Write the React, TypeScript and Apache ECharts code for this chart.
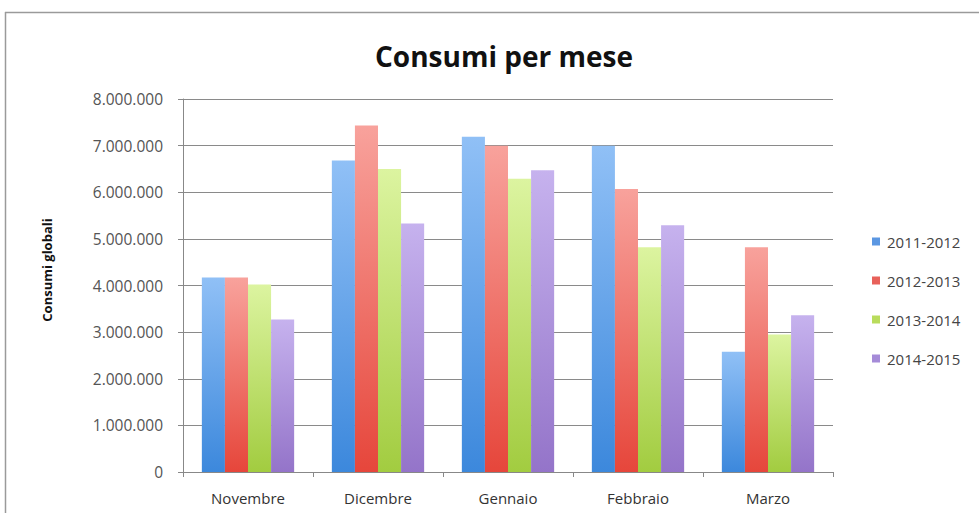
import React, { useEffect, useRef } from "react";
import * as echarts from "echarts";

const categories = ["Novembre", "Dicembre", "Gennaio", "Febbraio", "Marzo"];
const seriesNames = ["2011-2012", "2012-2013", "2013-2014", "2014-2015"];
const s2011 = [4170000, 6680000, 7190000, 7000000, 2580000];
const s2012 = [4170000, 7430000, 7000000, 6070000, 4820000];
const s2013 = [4020000, 6500000, 6290000, 4820000, 2950000];
const s2014 = [3270000, 5330000, 6470000, 5290000, 3360000];
const yTicks = [0, 1000000, 2000000, 3000000, 4000000, 5000000, 6000000, 7000000, 8000000];
const yAxisTitle = "Consumi globali";

const palettes = [
  { top: "#90c0f6", bottom: "#3c88dc", solid: "#5b97e2" },
  { top: "#f8a29c", bottom: "#e6463b", solid: "#e8615a" },
  { top: "#dcf4a0", bottom: "#a2cc40", solid: "#b9dc5c" },
  { top: "#c6b2ee", bottom: "#9474c9", solid: "#a58bd8" },
];

const fmt = (v: number) => String(Math.round(v)).replace(/\B(?=(\d{3})+(?!\d))/g, ".");

export default function App() {
  const ref = useRef<HTMLDivElement>(null);
  useEffect(() => {
    if (!ref.current) return;
    const chart = echarts.init(ref.current, undefined, { renderer: "svg" });
    const data = [s2011, s2012, s2013, s2014];
    const font = "'Open Sans', 'Noto Sans', sans-serif";
    chart.setOption({
      animation: false,
      backgroundColor: "#ffffff",
      textStyle: { fontFamily: font },
      title: {
        text: "Consumi per mese",
        left: 499,
        textAlign: "center",
        top: 37,
        textStyle: { fontSize: 28, fontWeight: "bold", color: "#111", fontFamily: font },
      },
      grid: { left: 183, right: 146, top: 99, bottom: 41 },
      legend: {
        orient: "vertical",
        left: 867,
        top: 229,
        itemWidth: 8,
        itemHeight: 8,
        itemGap: 24,
        icon: "rect",
        textStyle: { fontSize: 15, color: "#444", fontFamily: font, padding: [0, 0, 0, 2] },
        data: seriesNames.map((n, i) => ({ name: n, itemStyle: { color: palettes[i].solid } })),
      },
      xAxis: {
        type: "category",
        data: categories,
        axisLine: { lineStyle: { color: "#888", width: 1 } },
        axisTick: { show: true, alignWithLabel: false, length: 5, lineStyle: { color: "#888" } },
        axisLabel: { fontSize: 15, color: "#333", margin: 18 },
      },
      yAxis: {
        type: "value",
        min: 0,
        max: yTicks[yTicks.length - 1],
        interval: 1000000,
        axisLine: { show: true, lineStyle: { color: "#888" } },
        axisTick: { show: true, length: 5, lineStyle: { color: "#888" } },
        splitLine: { show: true, lineStyle: { color: "#8a8a8a", width: 1 } },
        axisLabel: { fontSize: 15.5, color: "#555", margin: 20, formatter: (v: number) => fmt(v) },
      },
      graphic: [
        { type: "line", shape: { x1: 5, y1: 12.5, x2: 979, y2: 12.5 }, style: { stroke: "#9a9a9a", lineWidth: 1.5 } },
        { type: "line", shape: { x1: 5.5, y1: 12, x2: 5.5, y2: 513 }, style: { stroke: "#9a9a9a", lineWidth: 1.5 } },
        {
          type: "text",
          x: 47,
          y: 270,
          rotation: Math.PI / 2,
          style: {
            text: yAxisTitle,
            fontSize: 13,
            fontWeight: "bold",
            fill: "#111",
            fontFamily: font,
            textAlign: "center",
            textVerticalAlign: "middle",
          },
        },
      ],
      series: seriesNames.map((name, i) => ({
        name,
        type: "bar",
        data: data[i],
        barGap: "0%",
        barCategoryGap: "29%",
        itemStyle: {
          color: new echarts.graphic.LinearGradient(0, 0, 0, 1, [
            { offset: 0, color: palettes[i].top },
            { offset: 1, color: palettes[i].bottom },
          ]),
        },
      })),
    });
    return () => chart.dispose();
  }, []);
  return (
    <div
      ref={ref}
      style={{ position: "fixed", left: 0, top: 0, width: 979, height: 513 }}
    />
  );
}
